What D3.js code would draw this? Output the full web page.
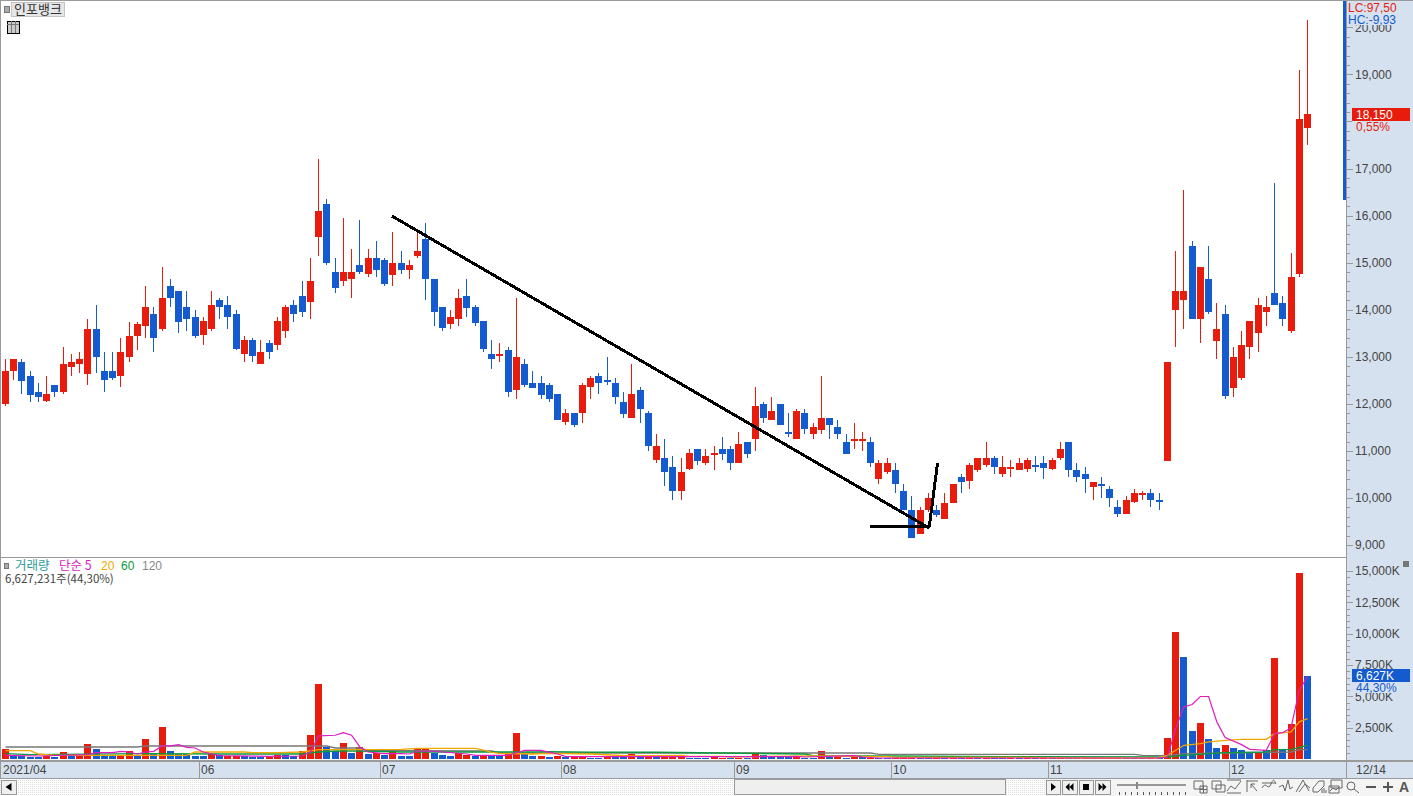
<!DOCTYPE html>
<html>
<head>
<meta charset="utf-8">
<script src="https://cdn.jsdelivr.net/npm/d3@7"></script>
<style>
html, body { margin: 0; padding: 0; background: #fff; overflow: hidden; }
text { font-family: "Liberation Sans", sans-serif; font-size: 12px; }
.kr { font-family: "Noto Sans CJK KR", sans-serif; font-size: 12.5px; }
</style>
</head>
<body>
<svg id="chart" width="1413" height="796"></svg>
<script>
// daily candles (won)
var opens = [12000,12700,12900,12600,12250,12050,12400,12250,12800,12850,
  12650,13600,12700,12700,12600,13000,13450,13650,13900,13600,
  14500,14400,14050,13850,13450,13600,14200,14100,13900,13050,
  13350,12850,13300,13250,13550,14100,14300,14150,15550,16250,
  14800,14600,14650,14950,14750,15100,15050,14750,15000,14850,
  15150,15500,14650,14050,13700,13800,14300,14050,13750,13050,
  13000,13150,12300,12850,12450,12450,12400,12200,11600,11800,
  11800,12350,12600,12500,12450,12050,11700,12300,11800,10800,
  10850,10650,10150,10600,11050,10750,10900,11050,11050,10750,
  11200,11250,12000,11650,12000,11400,11250,11800,11350,11450,
  11700,11500,11200,11200,11200,11200,10400,10550,10600,10150,
  9750,9250,9750,9750,9550,9900,10450,10350,10600,10700,
  10850,10500,10600,10600,10600,10700,10750,10600,10850,11200,
  10600,10500,10250,10300,10200,9800,9650,9900,10050,10100,
  9950,10800,14000,14200,15350,13800,14650,13350,13900,12350,
  12550,13200,13500,13950,14350,14150,13550,14750,17850];
var closes = [12700,12950,12500,12200,12150,12200,12250,12850,12900,12950,
  13600,13000,12500,12550,13100,13450,13700,14050,13400,14250,
  14250,13750,13800,13450,13750,14100,14050,13850,13150,13350,
  13000,13100,13100,13750,14050,13900,13950,14600,16100,15000,
  14450,14800,14800,14800,15100,14850,14550,15000,14850,14950,
  15250,14650,13950,13600,13850,14250,14050,13700,13150,12950,
  13050,12250,13000,12400,12350,12200,12100,11650,11800,11550,
  12400,12550,12450,12450,12150,11800,12200,11900,11100,11100,
  10550,10150,10550,10950,10800,10900,10950,10950,10750,11150,
  10950,11950,11700,11850,11550,11350,11850,11450,11500,11700,
  11550,11350,10950,11250,11250,10750,10750,10750,10300,9750,
  9150,9750,10000,9650,9900,10300,10350,10700,10850,10850,
  10650,10650,10650,10750,10800,10650,10650,10800,11050,10600,
  10450,10400,10350,10250,10000,9650,9950,10100,10100,9950,
  9900,12900,14400,14400,13800,14900,13950,13600,12150,13000,
  13250,13750,14100,14050,14100,13800,14700,18050,18150];
var highs = [12950,12950,12950,12700,12450,12600,12400,13200,13050,13100,
  13800,14100,13100,13100,13400,13750,13750,14500,14050,14900,
  14650,14400,14400,14000,13850,14400,14250,14300,14000,13450,
  13400,13350,13350,13850,14100,14200,14600,15100,17200,16350,
  15100,15950,15300,15900,15300,15450,15100,15650,15250,15050,
  15650,15850,14650,14050,14000,14450,14650,14100,13750,13350,
  13300,13200,14250,12950,12700,12600,12450,12200,11900,11800,
  12450,12600,12650,13000,12550,12250,12850,12350,11850,11350,
  11250,10900,10850,11050,11050,11050,11100,11300,11100,11400,
  11200,12350,12050,12150,12000,11800,11900,11900,11600,12600,
  11700,11650,11350,11600,11400,11300,10800,10850,10750,10300,
  10050,9800,10100,9850,10100,10300,10500,10750,10850,11200,
  10900,10900,10800,10850,10850,10900,10900,10850,11200,11200,
  10750,10650,10350,10450,10250,9950,10050,10200,10150,10200,
  10100,12900,15250,16550,15450,14900,15350,14150,14100,13200,
  13550,13750,14250,14300,16700,14300,15200,19100,20150];
var lows = [11950,12500,12200,12050,12050,12050,12150,12200,12600,12650,
  12400,12650,12250,12500,12350,12900,13150,13400,13100,13550,
  14050,13500,13550,13400,13250,13550,13800,13600,13150,12900,
  12900,12850,12950,13150,13400,13750,13850,13800,15150,14950,
  14350,14500,14250,14750,14700,14700,14500,14500,14750,14650,
  15100,14200,13650,13550,13600,13650,13850,13650,13100,12750,
  12900,12150,12100,12350,12350,12100,12050,11650,11550,11500,
  11600,12100,12200,12400,12000,11700,11700,11600,11000,10750,
  10250,9950,9950,10600,10700,10700,10600,10800,10600,10750,
  10850,11000,11600,11650,11550,11300,11250,11350,11250,11350,
  11250,11250,10950,11050,11000,10650,10300,10500,10100,9750,
  9150,9250,9700,9600,9550,9900,10100,10200,10550,10650,
  10500,10450,10450,10600,10550,10550,10400,10600,10800,10450,
  10350,10100,9950,10000,9800,9600,9650,9900,9950,9800,
  9750,10800,13200,13600,13800,13300,13900,12950,12100,12150,
  12500,12950,13100,13650,14100,13650,13500,14700,17500];

// volume in thousand shares, bar colour as painted in the picture
var volumes = [773,213,210,133,130,213,133,533,213,240,
  1173,773,293,290,300,613,293,1573,373,2533,
  613,373,370,213,210,373,293,220,240,210,
  150,145,150,293,290,213,613,1893,5973,933,
  613,1253,453,933,373,453,293,693,267,265,
  827,830,507,320,240,480,347,267,240,267,
  213,427,2080,400,240,240,160,213,187,133,
  213,107,105,160,160,133,370,160,213,160,
  213,215,160,80,80,78,133,80,78,80,
  80,400,320,160,160,160,133,80,78,640,
  160,160,80,160,133,107,80,80,107,107,
  107,80,78,80,78,80,80,80,80,80,
  80,80,80,80,80,80,80,80,80,80,
  80,80,80,80,80,80,80,80,80,80,
  80,1653,10135,8135,2213,2853,1573,853,1093,853,
  693,533,533,693,8050,693,2773,14850,6627];
var volumeColors = ("RBBBBRBRBR" + "RBBBRRBRBR" + "BBBBBRBRRB" + "BBRRBBRRRB" + "BRBRBRBRBB" +
  "RRBBBRRBRB" + "BRRBBRBRBR" + "RBBRBBRBRB" + "RRRBBBRRBR" + "BRBBBBRBBR" +
  "BRBRBRBBRR" + "RBBRBRBRBR" + "BBRBRBRBRB" + "BRBRRRBBBR" + "BRRBBRBBRB" + "BBRBRBRRB").split("");

// moving averages of volume, read at the points where they bend (index, K)
var ma5Idx = [0,4,10,11,13,14,15,16,17,18,19,20,21,22,23,24,26,32,36,37,38,40,41,42,43,44,46,48,49,50,52,56,57,61,62,63,64,65,66,67,68,95,96,97,103,104,106,140,141,142,143,144,145,146,147,148,150,151,153,154,155,156,157,158];
var ma5Val = [293,240,347,507,507,613,560,400,560,613,1040,1040,1147,933,880,560,267,213,240,560,1840,1893,2107,1893,960,560,427,427,400,620,620,400,293,293,500,693,693,693,533,400,187,187,213,160,267,160,80,80,160,2427,4160,4347,4987,4987,2960,1707,1147,773,693,2027,2107,2480,5494,6560];
var ma20Idx = [0,3,4,6,12,22,23,29,30,33,36,38,48,50,57,58,59,60,64,66,71,76,82,83,87,88,92,98,107,108,121,131,133,140,141,143,145,146,148,150,153,154,156,157,158];
var ma20Val = [667,667,400,293,293,293,560,560,507,507,560,747,773,853,853,700,533,453,400,453,400,240,293,213,213,160,213,240,187,133,133,80,80,100,293,1093,1227,1360,1493,1573,1573,2027,2160,2960,3227];
var ma60Idx = [0,3,17,26,36,38,40,43,48,55,60,64,66,71,79,97,98,104,108,121,141,143,148,153,154,156,158];
var ma60Val = [427,347,427,400,400,560,640,640,560,560,560,560,587,533,533,400,267,240,240,187,160,293,507,560,747,747,1093];
var ma120Idx = [0,16,17,39,40,43,44,57,59,60,105,106,137,138,141,143,152,156,157,158];
var ma120Val = [960,960,1040,1040,880,880,680,640,640,480,480,373,373,293,270,427,507,560,747,747];

// tick labels and hand drawn trend lines
var priceTicks = [9000,10000,11000,12000,13000,14000,15000,16000,17000,18000,19000,20000];
var volumeTicks = [2500,5000,7500,10000,12500,15000];
var monthIdx = [24,46,68,89,108,127,149];
var monthLabels = ["06","07","08","09","10","11","12"];
var trendIdx = [[46.9,112.1],[104.9,112.1],[112.1,113.1]];
var trendPrice = [[15990,9360],[9405,9385],[9385,10740]];

var red = "#e81c0c", blue = "#135bce", band = "#d6e1ef", frame = "#9a9a9a", ink = "#444";

var svg = d3.select("#chart");
var xs = d3.scaleLinear().domain([0, opens.length - 1]).range([5.5, 1307.5]);
var yPrice = d3.scaleLinear().domain([10000, 19000]).range([498, 74.4]);
var yVol = d3.scaleLinear().domain([0, 15000]).range([759, 571]);
var idx = d3.range(opens.length);

// panels
svg.append("rect").attr("width", 1413).attr("height", 796).attr("fill", "#fff");
svg.append("rect").attr("x", 1347).attr("y", 0).attr("width", 66).attr("height", 778).attr("fill", band);
svg.append("rect").attr("x", 0).attr("y", 761).attr("width", 1413).attr("height", 17).attr("fill", band);

// candles
var candles = svg.append("g").attr("shape-rendering", "crispEdges");
function candleColor(i) { return closes[i] >= opens[i] ? red : blue; }
candles.selectAll("rect.wick").data(idx).enter().append("rect")
  .attr("class", "wick")
  .attr("x", function(i) { return Math.floor(xs(i)); })
  .attr("y", function(i) { return yPrice(highs[i]); })
  .attr("width", 1)
  .attr("height", function(i) { return yPrice(lows[i]) - yPrice(highs[i]); })
  .attr("fill", candleColor);
candles.selectAll("rect.body").data(idx).enter().append("rect")
  .attr("class", "body")
  .attr("x", function(i) { return Math.floor(xs(i)) - 3; })
  .attr("y", function(i) { return Math.round(yPrice(Math.max(opens[i], closes[i]))); })
  .attr("width", 7)
  .attr("height", function(i) { return Math.max(1, Math.round(Math.abs(yPrice(opens[i]) - yPrice(closes[i])))); })
  .attr("fill", candleColor);

// trend lines
trendIdx.forEach(function(t, k) {
  svg.append("line")
    .attr("x1", xs(t[0])).attr("y1", yPrice(trendPrice[k][0]))
    .attr("x2", xs(t[1])).attr("y2", yPrice(trendPrice[k][1]))
    .attr("stroke", "#000").attr("stroke-width", 3).attr("shape-rendering", "crispEdges");
});

// volume bars
svg.append("g").attr("shape-rendering", "crispEdges")
  .selectAll("rect").data(idx).enter().append("rect")
  .attr("x", function(i) { return Math.floor(xs(i)) - 3; })
  .attr("y", function(i) { return Math.round(yVol(volumes[i])); })
  .attr("width", 7)
  .attr("height", function(i) { return 759 - Math.round(yVol(volumes[i])); })
  .attr("fill", function(i) { return volumeColors[i] == "R" ? red : blue; });

// volume averages
var maLine = d3.line()
  .x(function(d) { return xs(d[0]); })
  .y(function(d) { return yVol(d[1]); });
[[ma120Idx, ma120Val, "#777", 1.4], [ma60Idx, ma60Val, "#0a9a3c", 1.4],
 [ma20Idx, ma20Val, "#f0a800", 1.3], [ma5Idx, ma5Val, "#e01cc0", 1.2]].forEach(function(m) {
  svg.append("path")
    .attr("d", maLine(d3.zip(m[0], m[1])))
    .attr("fill", "none").attr("stroke", m[2]).attr("stroke-width", m[3]);
});

// right axes
function drawAxis(scale, major, minor, fmt) {
  var g = svg.append("g").attr("transform", "translate(1347,0)").attr("shape-rendering", "crispEdges");
  g.call(d3.axisRight(scale).tickValues(minor).tickSize(3).tickFormat(""));
  g.call(function(s) { s.select(".domain").remove(); s.selectAll("line").attr("stroke", frame); });
  var h = svg.append("g").attr("transform", "translate(1347,0)");
  h.call(d3.axisRight(scale).tickValues(major).tickSize(6).tickPadding(2).tickFormat(fmt));
  h.select(".domain").remove();
  h.selectAll("line").attr("stroke", frame).attr("shape-rendering", "crispEdges");
  h.selectAll("text").attr("fill", ink).style("font-size", "12px");
}
// the 18,000 label sits behind the last price tag
drawAxis(yPrice, priceTicks, d3.range(9000, 20200, 200), function(d) { return d == 18000 ? "" : d3.format(",")(d); });
drawAxis(yVol, volumeTicks, d3.range(500, 15500, 500), function(d) { return d3.format(",")(d) + "K"; });

// price tags on the axis
function box(x, y, w, h, fill) {
  return svg.append("rect").attr("x", x).attr("y", y).attr("width", w).attr("height", h).attr("fill", fill).attr("shape-rendering", "crispEdges");
}
function label(x, y, s, color, cls) {
  return svg.append("text").attr("x", x).attr("y", y).attr("fill", color).attr("class", cls || null).text(s);
}
box(1347, 1, 66, 24, band);
box(1343, 1, 4, 199, blue);
label(1348, 12, "LC:97,50", red);
label(1348, 24, "HC:-9,93", blue);
box(1352, 108, 58, 13, red);
box(1352, 121, 58, 12, band);
label(1356, 119, "18,150", "#fff");
label(1356, 131, "0,55%", red);
box(1352, 669, 58, 13, blue);
box(1352, 682, 58, 11, band);
label(1356, 680, "6,627K", "#fff");
label(1356, 692, "44,30%", blue);

// date axis
var dates = svg.append("g");
dates.selectAll("line").data(monthIdx).enter().append("line")
  .attr("x1", function(i) { return Math.floor(xs(i)) - 4; })
  .attr("x2", function(i) { return Math.floor(xs(i)) - 4; })
  .attr("y1", 761).attr("y2", 778)
  .attr("stroke", frame).attr("shape-rendering", "crispEdges");
dates.selectAll("text").data(monthIdx).enter().append("text")
  .attr("x", function(i) { return Math.floor(xs(i)) - 2; })
  .attr("y", 774).attr("fill", ink)
  .text(function(i, k) { return monthLabels[k]; });
label(3, 774, "2021/04", ink);
label(1356, 774, "12/14", ink);

// frame lines
[[0,0,1413,1],[0,557,1347,1],[0,760,1413,2],[0,778,1413,1]].forEach(function(r) { box(r[0], r[1], r[2], r[3], frame); });
box(0, 0, 1, 778, frame);
box(1346, 0, 1, 778, frame);

// titles
box(4, 6, 5, 6, "#aaa").attr("stroke", "#777");
box(11, 2, 53, 14, "#e6e6e6").attr("stroke", "#c4c4c4");
label(14, 14, "인포뱅크", "#333", "kr").style("font-size", "13px");
box(7, 21, 12, 12, "#ccc").attr("stroke", "#000");
[11, 15].forEach(function(x) { box(x, 21, 1, 12, "#777"); });
box(7, 24, 12, 1, "#777");

box(4, 563, 4, 5, "#aaa").attr("stroke", "#777");
label(15, 570, "거래량", "#2f9a9a", "kr");
label(59, 570, "단순 5", "#e01cc0", "kr");
label(101, 570, "20", "#f0a800");
label(121, 570, "60", "#0a9a3c");
label(142, 570, "120", "#888");
label(5, 583, "6,627,231주(44,30%)", ink, "kr").style("font-size", "11.5px");
box(1403, 561, 6, 6, "#777");

// bottom toolbar
var defs = svg.append("defs");
var dots = defs.append("pattern").attr("id", "dots").attr("width", 2).attr("height", 2).attr("patternUnits", "userSpaceOnUse");
dots.append("rect").attr("width", 2).attr("height", 2).attr("fill", "#fff");
dots.append("rect").attr("width", 1).attr("height", 1).attr("fill", "#dcdcdc");
box(0, 779, 1045, 17, "url(#dots)");
box(1045, 779, 368, 17, "#f4f4f4");
box(734, 779, 271, 15, "#efefef").attr("stroke", "#999");

function button(x, w, d) {
  box(x, 780, w, 14, "#f0f0f0").attr("stroke", "#999");
  svg.append("path").attr("transform", "translate(" + (x + w / 2) + ",787)").attr("d", d).attr("fill", "#000");
}
button(1, 15, "M3,-4 L3,4 L-3,0 Z");
button(1046, 14, "M-2,-4 L-2,4 L3,0 Z");
button(1062, 15, "M0,-4 L0,4 L-4,0 Z M4,-4 L4,4 L0,0 Z");
button(1079, 14, "M-3,-3 H3 V3 H-3 Z");
button(1095, 15, "M-4,-4 L-4,4 L0,0 Z M0,-4 L0,4 L4,0 Z");
box(1117, 784, 69, 2, "#999");
box(1136, 782, 2, 7, "#888");
d3.range(0, 12).forEach(function(k) { box(1119 + k * 6, 792, 1, 3, "#555"); });

var toolIcons = [
  [1200, "M-6,-5 H3 V3 H-6 Z M0,0 H7 V7 H0 Z M3.5,0 V7 M0,3.5 H7"],
  [1218, "M-6,-5 H3 V3 H-6 Z M-2,-1 H7 V6 H-2 Z"],
  [1234, "M-7,5 L-3,0 L1,3 L7,-5 M-7,-6 H7 M-7,7 H7"],
  [1252, "M-5,-6 V6 M-5,-5 H6 M-1,-2 L5,5 M-1,-2 H3 M-1,-2 V2"],
  [1269, "M-7,2 C-3,-6 -1,6 2,-2 S6,-3 7,-2 M-7,-3 H7"],
  [1286, "M-7,1 L-3,-1 L-1,5 L2,-6 L4,3 L7,1"],
  [1303, "M-7,6 L0,-6 L6,5 M-4,6 L2,-2 L7,2"],
  [1319, "M-6,2 L0,-5 H5 V0 L-1,6 H-6 Z M3,3 V7 M5,2 V7 M7,4 V7"],
  [1336, "M-5,-6 H6 V2 H-5 Z M-7,0 H3 V7 H-7 Z M-6,5 L-3,2 L0,4 L3,1"],
  [1353, "M2,0 A4,4 0 1 1 -6,0 A4,4 0 1 1 2,0 M1,3 L6,7"]
];
toolIcons.forEach(function(t) {
  svg.append("path").attr("transform", "translate(" + t[0] + ",786)").attr("d", t[1])
    .attr("fill", "none").attr("stroke", "#666").attr("stroke-width", 1);
});
box(1366, 786, 10, 2, "#555");
box(1383, 786, 10, 2, "#555");
box(1387, 782, 2, 10, "#555");
svg.append("text").attr("x", 1399).attr("y", 792).attr("fill", "#555").style("font-size", "14px").style("font-weight", "bold").text("A");
</script>
</body>
</html>
